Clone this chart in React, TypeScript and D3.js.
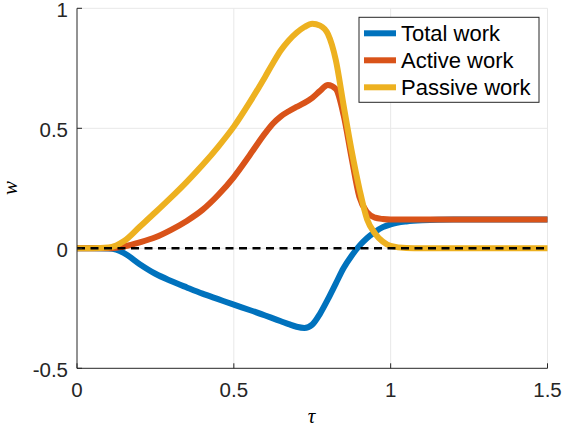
import React from "react";
import * as d3 from "d3";

const tau = [0, 0.05, 0.1, 0.125, 0.15, 0.2, 0.25, 0.3, 0.35, 0.4, 0.45, 0.5, 0.55, 0.6, 0.625, 0.65, 0.675, 0.7, 0.725, 0.75, 0.775, 0.8, 0.825, 0.85, 0.875, 0.9, 0.925, 0.95, 0.975, 1.0, 1.05, 1.1, 1.2, 1.3, 1.4, 1.5];

const totalWork = [0, 0, -0.001, -0.006, -0.02, -0.066, -0.106, -0.136, -0.163, -0.189, -0.212, -0.235, -0.257, -0.28, -0.292, -0.304, -0.316, -0.327, -0.332, -0.318, -0.272, -0.212, -0.147, -0.082, -0.032, 0.01, 0.043, 0.068, 0.088, 0.1, 0.112, 0.117, 0.12, 0.12, 0.12, 0.12];

const activeWork = [0, 0, 0, 0.002, 0.008, 0.025, 0.046, 0.077, 0.114, 0.16, 0.222, 0.297, 0.387, 0.48, 0.52, 0.55, 0.571, 0.589, 0.606, 0.627, 0.656, 0.68, 0.664, 0.555, 0.38, 0.215, 0.15, 0.128, 0.122, 0.12, 0.12, 0.12, 0.12, 0.12, 0.12, 0.12];

const passiveWork = [0, 0, 0.003, 0.012, 0.03, 0.09, 0.15, 0.212, 0.277, 0.347, 0.423, 0.507, 0.607, 0.715, 0.772, 0.825, 0.866, 0.898, 0.922, 0.936, 0.928, 0.893, 0.785, 0.595, 0.41, 0.25, 0.12, 0.062, 0.028, 0.01, 0.001, 0, 0, 0, 0, 0];

const xTicks = [0, 0.5, 1, 1.5];
const xTickLabels = ["0", "0.5", "1", "1.5"];
const yTicks = [-0.5, 0, 0.5, 1];
const yTickLabels = ["-0.5", "0", "0.5", "1"];

const seriesNames = ["Total work", "Active work", "Passive work"];
const seriesColors = ["#0072BD", "#D95319", "#EDB120"];

export default function App() {
  const W = 564, H = 431;
  const left = 77, right = 547.5, top = 8.3, bottom = 368.3;
  const x = d3.scaleLinear().domain([0, 1.5]).range([left, right]);
  const y = d3.scaleLinear().domain([-0.5, 1]).range([bottom, top]);
  const series = [totalWork, activeWork, passiveWork];
  const line = d3
    .line<number>()
    .x((_, i) => x(tau[i]))
    .y((d) => y(d))
    .curve(d3.curveMonotoneX);
  const font = "'Liberation Sans', Arial, Helvetica, sans-serif";
  const axisColor = "#262626";
  const gridColor = "#e8e8e8";

  return (
    <svg width={W} height={H} style={{ position: "absolute", left: 0, top: 0, background: "#fff" }}>
      <rect x={0} y={0} width={W} height={H} fill="#fff" />
      {xTicks.filter((t) => t !== 0).map((t) => (
        <line key={"gx" + t} x1={x(t)} x2={x(t)} y1={top} y2={bottom} stroke={gridColor} strokeWidth={1} />
      ))}
      {yTicks.filter((t) => t !== -0.5).map((t) => (
        <line key={"gy" + t} x1={left} x2={right} y1={y(t)} y2={y(t)} stroke={gridColor} strokeWidth={1} />
      ))}
      {series.map((s, i) => (
        <path key={i} d={line(s) || ""} fill="none" stroke={seriesColors[i]} strokeWidth={6} strokeLinejoin="round" />
      ))}
      <line x1={x(0)} x2={x(1.5)} y1={y(0)} y2={y(0)} stroke="#000" strokeWidth={2.5} strokeDasharray="8,5.5" />
      <line x1={left} x2={right} y1={bottom} y2={bottom} stroke={axisColor} strokeWidth={1} />
      <line x1={left} x2={left} y1={top} y2={bottom} stroke={axisColor} strokeWidth={1} />
      {xTicks.map((t, i) => (
        <g key={"xt" + t}>
          <line x1={x(t)} x2={x(t)} y1={bottom} y2={bottom - 5} stroke={axisColor} strokeWidth={1} />
          <text x={x(t)} y={bottom + 28.5} textAnchor="middle" fontFamily={font} fontSize={20.5} fill={axisColor}>
            {xTickLabels[i]}
          </text>
        </g>
      ))}
      {yTicks.map((t, i) => (
        <g key={"yt" + t}>
          <line x1={left} x2={left + 5} y1={y(t)} y2={y(t)} stroke={axisColor} strokeWidth={1} />
          <text x={left - 9} y={y(t) + 8.5} textAnchor="end" fontFamily={font} fontSize={20.5} fill={axisColor}>
            {yTickLabels[i]}
          </text>
        </g>
      ))}
      <text x={311.5} y={423} textAnchor="middle" fontFamily="'Liberation Serif', 'DejaVu Serif', serif" fontStyle="italic" fontSize={21} fill="#000">
        τ
      </text>
      <text
        transform="translate(17,188) rotate(-90)"
        textAnchor="middle"
        fontFamily="'Liberation Serif', 'DejaVu Serif', serif"
        fontStyle="italic"
        fontSize={21}
        fill="#000"
      >
        w
      </text>
      <rect x={359} y={17.3} width={180} height={85} fill="#fff" stroke={axisColor} strokeWidth={1} />
      {seriesNames.map((n, i) => {
        const cy = 33.3 + i * 27;
        return (
          <g key={n}>
            <line x1={364} x2={396} y1={cy} y2={cy} stroke={seriesColors[i]} strokeWidth={6} />
            <text x={401} y={cy + 7.7} fontFamily={font} fontSize={22} fill="#000">
              {n}
            </text>
          </g>
        );
      })}
    </svg>
  );
}
